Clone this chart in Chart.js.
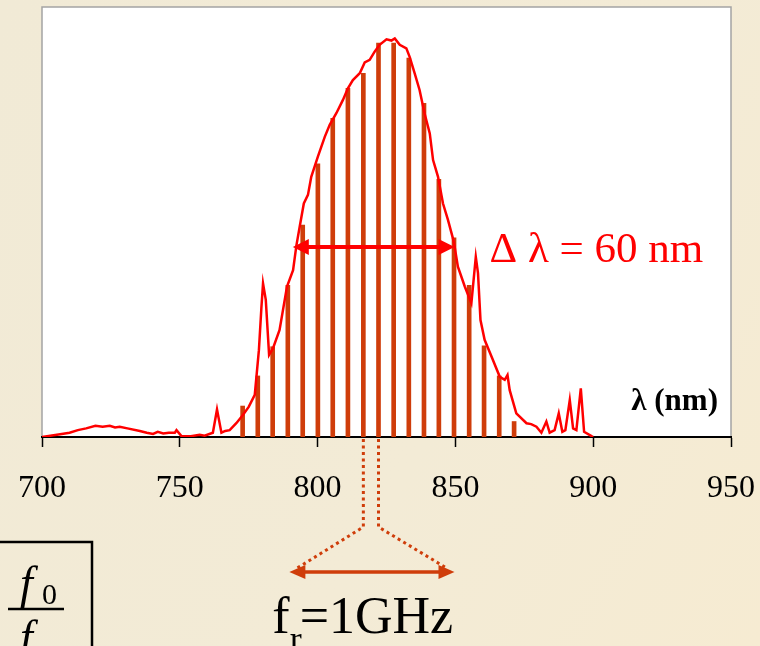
<!DOCTYPE html>
<html>
<head>
<meta charset="utf-8">
<script src="https://cdn.jsdelivr.net/npm/chart.js@4"></script>
<style>
  html, body { margin: 0; padding: 0; }
  body { width: 760px; height: 646px; overflow: hidden;
         background: linear-gradient(120deg, #f1ead6 0%, #f3ebd6 60%, #f6ebd2 100%); }
  #wrap { position: relative; width: 760px; height: 646px; }
</style>
</head>
<body>
<div id="wrap"><canvas id="spectrum" width="760" height="646"></canvas></div>
<script>
// x ticks (nm)
const tickValues = [700, 750, 800, 850, 900, 950];

// comb lines: wavelength (nm) and height (arb. units, 0-100)
const combNm = [772.8, 778.3, 783.7, 789.2, 794.6, 800.1, 805.5, 811.0, 816.6, 822.1,
                827.6, 833.1, 838.6, 844.0, 849.5, 855.0, 860.4, 865.9, 871.3];
const combLevel = [7.2, 14.2, 21.0, 35.3, 49.3, 63.5, 74.1, 81.1, 84.6, 91.6,
                   91.6, 88.1, 77.6, 59.9, 46.3, 35.3, 21.2, 14.2, 3.6];

// measured spectrum
const specNm = [700, 703, 706, 710, 713, 716, 719.4, 722, 724.6, 726.5, 728.2, 731, 735.5, 738,
  740.3, 742, 744, 746, 748.2, 748.8, 750.6, 754, 757.2, 759, 762, 763.5, 765.1, 766.5, 768.1,
  770.5, 772.9, 775, 777.2, 778.7, 779.6, 780.2, 781.2, 782.4, 783.8, 786.2, 788.9, 791.1,
  792.3, 793.5, 795, 796.5, 797.7, 800.1, 802.6, 804.4, 806.8, 809.2, 811, 812.8, 815.3,
  817.1, 818.9, 820.7, 822.5, 825, 826.8, 828, 829.8, 832.2, 833.4, 835.2, 837, 838.8,
  840.7, 841.9, 843.7, 845.5, 847.3, 849.1, 849.7, 850.9, 853.4, 855.8, 857.4, 858.2,
  859.1, 860.6, 863.1, 866.1, 867.9, 868.9, 869.7, 872.1, 875.8, 877.5, 879.4, 881.2,
  883, 884.2, 886, 887.5, 888.8, 889.9, 891.5, 892.7, 893.9, 895.5, 896.7, 899.4, 900];
const specLevel = [0, 0.3, 0.6, 1.0, 1.6, 2.0, 2.6, 2.4, 2.6, 2.2, 2.4, 2.0, 1.4, 1.0,
  0.7, 1.2, 0.8, 1.0, 1.0, 1.6, 0.2, 0.2, 0.5, 0.3, 1.0, 6.4, 1.0, 1.4, 1.6,
  3.2, 5.1, 7.0, 9.8, 20.2, 30, 35.7, 31.9, 19.1, 20.6, 24.9, 35, 38.8,
  44.5, 48.9, 54.3, 56.3, 60.5, 65.2, 69.8, 72.6, 75.3, 78.4, 81.1, 83.0, 84.6,
  87.1, 87.7, 89.6, 91.2, 92.5, 92.2, 92.7, 91.2, 90.4, 88.4, 84.6, 80.7, 75.3,
  70.6, 64.4, 60.5, 54.3, 50.5, 46.2, 44.3, 39.6, 35.0, 31.1, 41.9, 38.1,
  27.2, 22.6, 18.7, 14.0, 13.3, 14.4, 10.9, 5.5, 3.2, 3.0, 2.4, 1.0,
  3.6, 1.0, 1.6, 5.5, 1.2, 1.6, 8.6, 2.0, 1.6, 11.3, 1.2, 0.2, 0];

// FWHM arrow
const fwhmNm = [791.0, 849.7];
const fwhmLevel = 44.2;
const fwhmLabel = 'Δ λ = 60 nm';
const axisLabel = 'λ (nm)';
const repLabel = ['f', 'r', '=1GHz'];

const RED = '#ff0000';
const COMB = '#cf3d0a';
const SERIF = '"Liberation Serif", "Times New Roman", serif';

function head(ctx, x, y, ang, len, half) {
  ctx.save();
  ctx.translate(x, y);
  ctx.rotate(ang);
  ctx.beginPath();
  ctx.moveTo(0, 0);
  ctx.lineTo(-len, -half);
  ctx.lineTo(-len, half);
  ctx.closePath();
  ctx.fill();
  ctx.restore();
}

const framePlugin = {
  id: 'frame',
  beforeDraw(chart) {
    const { ctx, chartArea: a } = chart;
    ctx.save();
    ctx.fillStyle = '#ffffff';
    ctx.fillRect(a.left, a.top, a.right - a.left, a.bottom - a.top);
    ctx.strokeStyle = '#a4a4a4';
    ctx.lineWidth = 1.5;
    ctx.beginPath();
    ctx.moveTo(a.left, a.bottom);
    ctx.lineTo(a.left, a.top);
    ctx.lineTo(a.right, a.top);
    ctx.lineTo(a.right, a.bottom);
    ctx.stroke();
    ctx.restore();
  }
};

const notesPlugin = {
  id: 'notes',
  afterDraw(chart) {
    const { ctx, chartArea: a } = chart;
    const xs = chart.scales.x, ys = chart.scales.y;
    ctx.save();

    // FWHM double arrow + label
    const x1 = xs.getPixelForValue(fwhmNm[0]);
    const x2 = xs.getPixelForValue(fwhmNm[1]);
    const yA = ys.getPixelForValue(fwhmLevel);
    ctx.strokeStyle = RED;
    ctx.fillStyle = RED;
    ctx.lineWidth = 4;
    ctx.beginPath();
    ctx.moveTo(x1 + 10, yA);
    ctx.lineTo(x2 - 10, yA);
    ctx.stroke();
    head(ctx, x1, yA, Math.PI, 16, 8);
    head(ctx, x2, yA, 0, 16, 8);
    ctx.font = '43px ' + SERIF;
    ctx.textBaseline = 'alphabetic';
    ctx.fillText(fwhmLabel, x2 + 35, yA + 15);

    // axis label inside plot
    ctx.fillStyle = '#000';
    ctx.font = 'bold 31px ' + SERIF;
    ctx.textAlign = 'right';
    ctx.fillText(axisLabel, a.right - 13, a.bottom - 27);
    ctx.textAlign = 'left';

    // dotted lines from two adjacent comb lines down to the f_r arrow
    const xL = xs.getPixelForValue(combNm[8]);
    const xR = xs.getPixelForValue(combNm[9]);
    const yBend = a.bottom + 90;
    const yArr = a.bottom + 135;
    const tipL = xL - 74, tipR = xR + 76;
    ctx.strokeStyle = COMB;
    ctx.fillStyle = COMB;
    ctx.lineWidth = 3;
    ctx.setLineDash([3, 3.5]);
    ctx.beginPath();
    ctx.moveTo(xL, a.bottom + 2);
    ctx.lineTo(xL, yBend);
    ctx.lineTo(tipL + 8, yArr - 4);
    ctx.moveTo(xR, a.bottom + 2);
    ctx.lineTo(xR, yBend);
    ctx.lineTo(tipR - 8, yArr - 4);
    ctx.stroke();
    ctx.setLineDash([]);
    ctx.lineWidth = 3.5;
    ctx.beginPath();
    ctx.moveTo(tipL + 10, yArr);
    ctx.lineTo(tipR - 10, yArr);
    ctx.stroke();
    head(ctx, tipL, yArr, Math.PI, 16, 7);
    head(ctx, tipR, yArr, 0, 16, 7);

    // f_r = 1GHz
    ctx.fillStyle = '#000';
    let tx = tipL - 17;
    const tb = yArr + 61;
    ctx.font = '52px ' + SERIF;
    ctx.fillText(repLabel[0], tx, tb);
    tx += ctx.measureText(repLabel[0]).width;
    ctx.font = '36px ' + SERIF;
    ctx.fillText(repLabel[1], tx, tb + 18);
    tx += ctx.measureText(repLabel[1]).width - 2;
    ctx.font = '52px ' + SERIF;
    ctx.fillText(repLabel[2], tx, tb);

    // boxed fraction f0 / f (cut by the page edge)
    ctx.strokeStyle = '#000';
    ctx.lineWidth = 2.5;
    ctx.strokeRect(-10, 542, 102, 200);
    ctx.font = 'italic 46px ' + SERIF;
    ctx.fillText('f', 20, 598);
    ctx.font = '30px ' + SERIF;
    ctx.fillText('0', 42, 604);
    ctx.beginPath();
    ctx.moveTo(8, 609);
    ctx.lineTo(64, 609);
    ctx.stroke();
    ctx.font = 'italic 46px ' + SERIF;
    ctx.fillText('f', 20, 652);

    ctx.restore();
  }
};

new Chart(document.getElementById('spectrum'), {
  type: 'line',
  data: {
    datasets: [
      {
        type: 'line',
        label: 'spectrum',
        data: specNm.map((x, i) => ({ x: x, y: specLevel[i] })),
        borderColor: RED,
        borderWidth: 2.5,
        pointRadius: 0,
        tension: 0,
        order: 0
      },
      {
        type: 'bar',
        label: 'comb',
        data: combNm.map((x, i) => ({ x: x, y: combLevel[i] })),
        backgroundColor: COMB,
        barThickness: 4,
        order: 1
      }
    ]
  },
  options: {
    responsive: false,
    animation: false,
    layout: { padding: { left: 42, right: 29, top: 7, bottom: 139 } },
    plugins: { legend: { display: false }, tooltip: { enabled: false } },
    scales: {
      x: {
        type: 'linear',
        min: 700,
        max: 950,
        offset: false,
        afterBuildTicks: s => { s.ticks = tickValues.map(v => ({ value: v })); },
        afterFit: s => { s.height = 70; s.paddingLeft = 0; s.paddingRight = 0; },
        grid: { offset: false, drawOnChartArea: false, drawTicks: true, tickLength: 10, tickColor: '#000', tickWidth: 1.5 },
        border: { display: true, color: '#000', width: 2 },
        ticks: { color: '#000', padding: 22, maxRotation: 0, font: { family: SERIF, size: 32 } }
      },
      y: {
        type: 'linear',
        min: 0,
        max: 100,
        display: false
      }
    }
  },
  plugins: [framePlugin, notesPlugin]
});
</script>
</body>
</html>
